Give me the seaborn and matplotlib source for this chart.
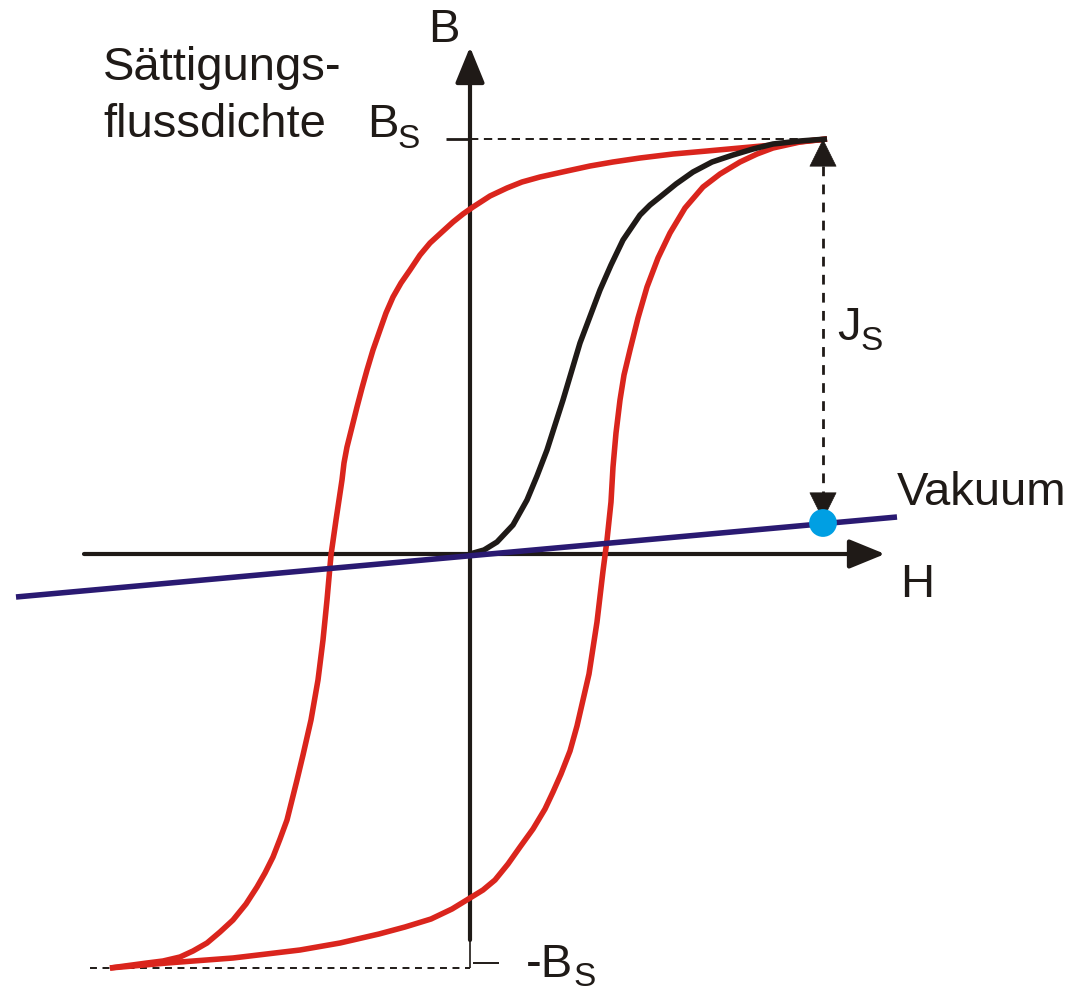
import matplotlib
matplotlib.use("Agg")
import matplotlib.pyplot as plt
import numpy as np
import pandas as pd
import seaborn as sns

# ---------------- data (H, B in arbitrary units) ----------------
# upper (descending) branch of the hysteresis loop
upper_H = [3.57, 3.37, 3.03, 2.70, 2.37, 2.03, 1.70, 1.43, 1.20, 0.97, 0.70, 0.52, 0.37, 0.20, 0.03,
           -0.07, -0.17, -0.28, -0.40, -0.50, -0.60, -0.69, -0.77, -0.84, -0.90, -0.97, -1.03,
           -1.08, -1.13, -1.18, -1.23, -1.26, -1.28, -1.31, -1.34, -1.39, -1.43, -1.47, -1.52,
           -1.59, -1.67, -1.73, -1.83, -1.90, -1.97, -2.05, -2.13, -2.24, -2.37, -2.50, -2.63,
           -2.77, -2.90, -3.07, -3.23, -3.60]
upper_B = [4.15, 4.13, 4.09, 4.06, 4.03, 4.00, 3.96, 3.92, 3.88, 3.83, 3.77, 3.72, 3.66, 3.58, 3.47,
           3.40, 3.32, 3.22, 3.11, 2.99, 2.84, 2.71, 2.57, 2.41, 2.24, 2.04, 1.84,
           1.66, 1.47, 1.27, 1.07, 0.91, 0.74, 0.54, 0.34, -0.01, -0.46, -0.86, -1.26,
           -1.66, -2.01, -2.26, -2.66, -2.85, -3.03, -3.19, -3.33, -3.50, -3.66, -3.78, -3.89,
           -3.97, -4.03, -4.07, -4.09, -4.14]
# lower (ascending) branch of the hysteresis loop
lower_H = [-3.60, -3.03, -2.37, -1.70, -1.30, -0.91, -0.65, -0.39, -0.18, 0.00, 0.13, 0.25, 0.38,
           0.50, 0.63, 0.75, 0.83, 0.91, 1.00, 1.07, 1.13, 1.19, 1.23, 1.27, 1.33, 1.37, 1.41,
           1.43, 1.46, 1.50, 1.54, 1.60, 1.68, 1.77, 1.88, 2.00, 2.15, 2.33, 2.50, 2.70, 2.87,
           3.03, 3.30, 3.57]
lower_B = [-4.14, -4.09, -4.04, -3.96, -3.89, -3.80, -3.73, -3.65, -3.55, -3.44, -3.36, -3.26, -3.10,
           -2.93, -2.75, -2.55, -2.38, -2.20, -1.97, -1.72, -1.46, -1.20, -0.94, -0.68, -0.17, 0.14, 0.52,
           0.87, 1.21, 1.54, 1.79, 2.04, 2.36, 2.67, 2.96, 3.21, 3.46, 3.67, 3.80, 3.92, 4.00,
           4.06, 4.12, 4.15]
# initial magnetisation curve
init_H = [0.00, 0.14, 0.27, 0.43, 0.57, 0.67, 0.77, 0.93, 1.10, 1.30, 1.41, 1.53, 1.70, 1.80,
          1.90, 2.06, 2.23, 2.42, 2.63, 2.83, 3.03, 3.30, 3.57]
init_B = [0.00, 0.04, 0.12, 0.29, 0.54, 0.78, 1.04, 1.54, 2.11, 2.64, 2.89, 3.14, 3.39, 3.49,
          3.57, 3.70, 3.82, 3.92, 3.99, 4.05, 4.10, 4.13, 4.15]
# vacuum line and its point at saturation field
vac_H = [-4.54, 4.27]
vac_B = [-0.43, 0.37]
vac_pt_H = [3.53]
vac_pt_B = [0.31]
# saturation values
B_sat = 4.15
B_sat_neg = -4.14
H_sat = 3.57
H_sat_neg = -3.60

labels = {"B": "B", "H": "H", "vac": "Vakuum", "sat1": "Sättigungs-", "sat2": "flussdichte"}

# ---------------- styling ----------------
sns.set_theme(style="white")
plt.rcParams["font.family"] = ["Liberation Sans", "DejaVu Sans"]
plt.rcParams["lines.scale_dashes"] = False

K = "#1f1a17"
RED = "#da251d"
BLUE = "#2a1a72"
CYAN = "#009fe3"
FS = 34
FSS = 24

fig = plt.figure(figsize=(10.71, 9.92), dpi=100)
ax = fig.add_axes([0, 0, 1, 1])
ax.set_xlim(-4.70, 6.01)
ax.set_ylim(-4.38, 5.54)
ax.axis("off")

# axes with arrows
arrow_kw = dict(arrowstyle="-|>,head_length=1.1,head_width=0.45", mutation_scale=20,
                lw=3, color=K, shrinkA=0, shrinkB=0)
ax.annotate("", xy=(4.15, 0), xytext=(-3.86, 0), arrowprops=arrow_kw, zorder=2)
ax.annotate("", xy=(0, 5.07), xytext=(0, -3.86), arrowprops=arrow_kw, zorder=2)

# saturation guides
ax.plot([0, H_sat], [B_sat, B_sat], color=K, lw=1.4, ls=(0, (6, 4)), zorder=1)
ax.plot([-0.24, 0], [B_sat, B_sat], color=K, lw=2, zorder=1)
ax.plot([H_sat_neg - 0.2, 0], [B_sat_neg, B_sat_neg], color=K, lw=1.4, ls=(0, (5, 4)), zorder=1)
ax.plot([0, 0], [-3.86, B_sat_neg], color=K, lw=1.2, zorder=1)
ax.plot([0.03, 0.29], [-4.09, -4.09], color=K, lw=1.4, zorder=1)

# curves
sns.lineplot(x=upper_H, y=upper_B, sort=False, estimator=None, color=RED, lw=4.0, ax=ax, zorder=3)
sns.lineplot(x=lower_H, y=lower_B, sort=False, estimator=None, color=RED, lw=4.0, ax=ax, zorder=3)
sns.lineplot(x=init_H, y=init_B, sort=False, estimator=None, color=K, lw=4.0, ax=ax, zorder=4)
sns.lineplot(x=vac_H, y=vac_B, sort=False, estimator=None, color=BLUE, lw=4.0, ax=ax, zorder=5)
for ln in ax.lines:
    ln.set_solid_capstyle("butt")
    ln.set_solid_joinstyle("round")

# J_S double arrow
xj = vac_pt_H[0]
ax.plot([xj, xj], [B_sat - 0.27, vac_pt_B[0] + 0.30], color=K, lw=2, ls=(0, (7, 6)), zorder=6)
head_kw = dict(arrowstyle="-|>,head_length=0.95,head_width=0.47", mutation_scale=20,
               lw=0.5, color=K, shrinkA=0, shrinkB=0)
ax.annotate("", xy=(xj, B_sat), xytext=(xj, B_sat - 0.27), arrowprops=head_kw, zorder=6)
ax.annotate("", xy=(xj, vac_pt_B[0] + 0.03), xytext=(xj, vac_pt_B[0] + 0.30), arrowprops=head_kw, zorder=6)

sns.scatterplot(x=vac_pt_H, y=vac_pt_B, s=400, color=CYAN, edgecolor="none", ax=ax, zorder=7)

# texts
tk = dict(color=K, ha="left", va="baseline")
ax.text(-3.67, 4.74, labels["sat1"], fontsize=FS, **tk)
ax.text(-3.67, 4.17, labels["sat2"], fontsize=FS, **tk)
ax.text(-1.03, 4.17, "B", fontsize=FS, **tk)
ax.text(-0.73, 4.06, "S", fontsize=FSS, **tk)
ax.text(-0.42, 5.12, labels["B"], fontsize=FS, **tk)
ax.text(3.67, 2.14, "J", fontsize=FS, **tk)
ax.text(3.90, 2.04, "S", fontsize=FSS, **tk)
ax.text(4.27, 0.49, labels["vac"], fontsize=FS, **tk)
ax.text(4.30, -0.43, labels["H"], fontsize=FS, **tk)
ax.text(0.56, -4.23, "-B", fontsize=FS, **tk)
ax.text(1.03, -4.32, "S", fontsize=FSS, **tk)

fig.savefig("out.png", dpi=100)
